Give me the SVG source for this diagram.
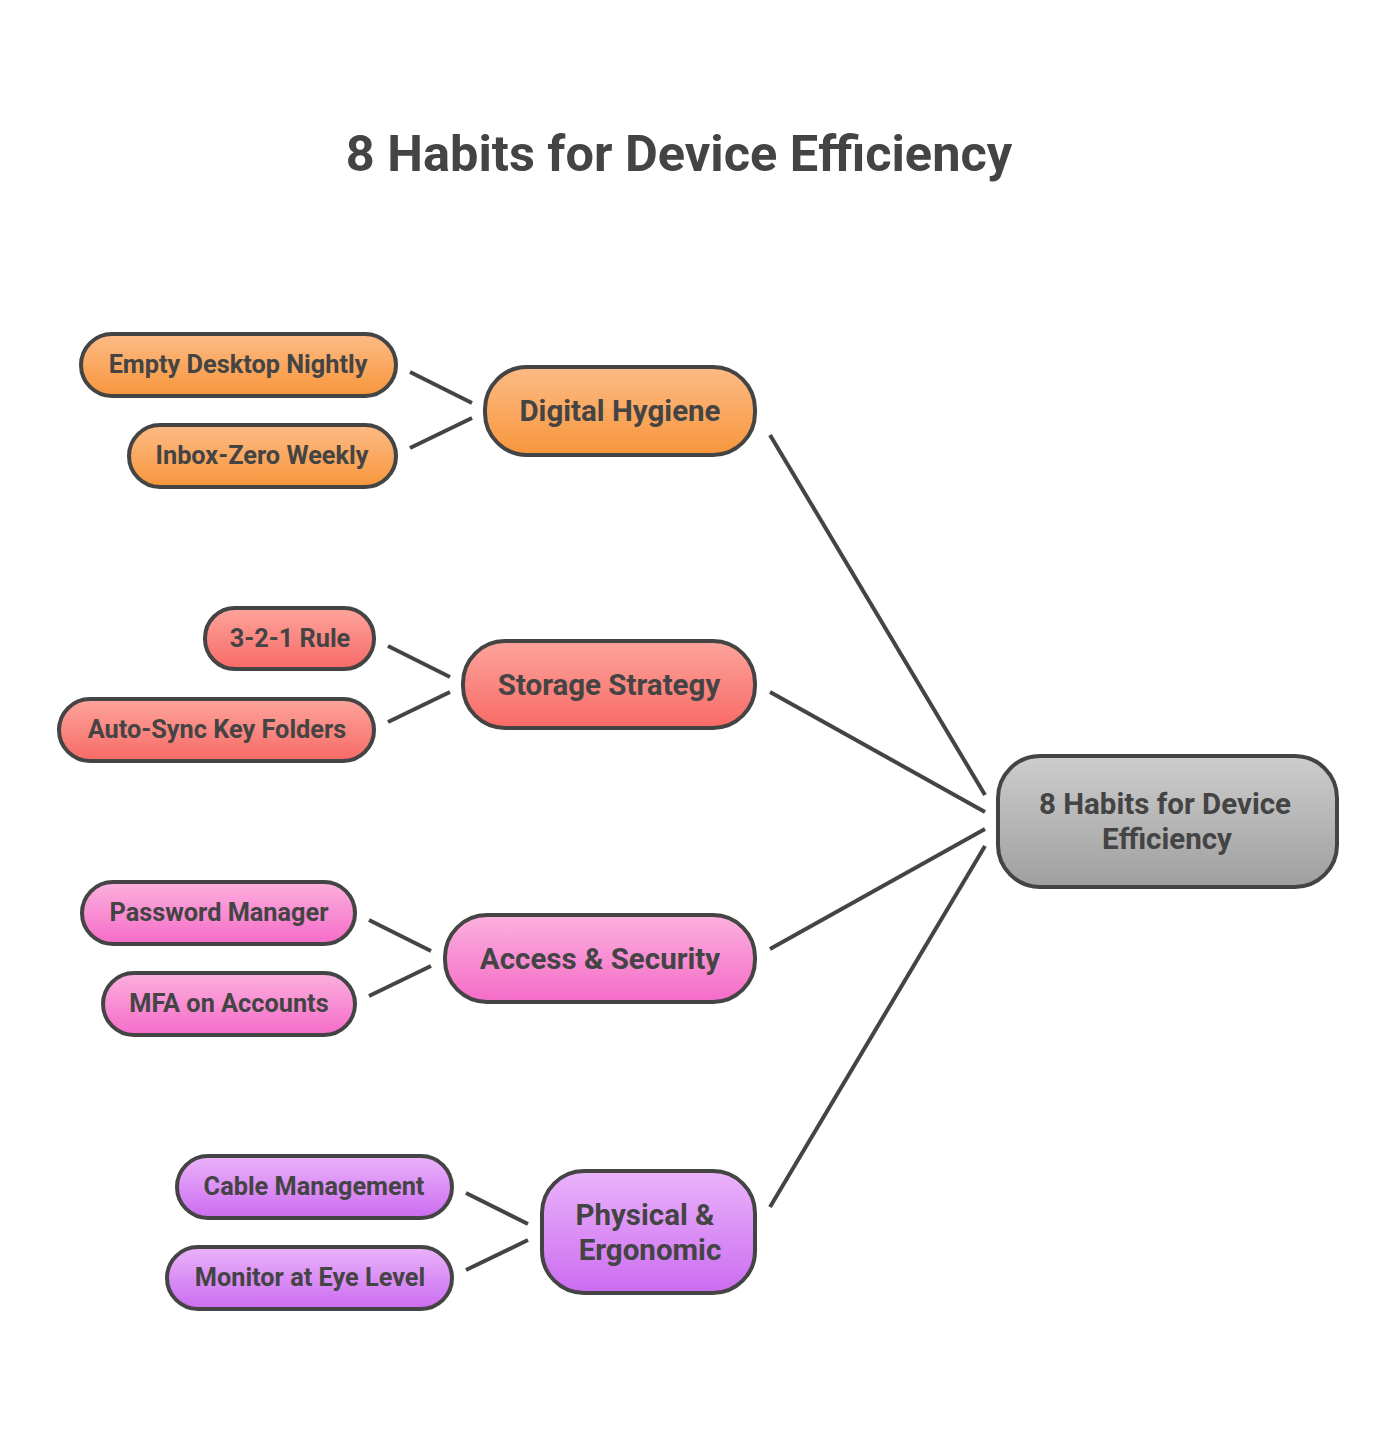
<svg xmlns="http://www.w3.org/2000/svg" width="1400" height="1430" viewBox="0 0 1400 1430">
<defs>
<linearGradient id="go" x1="0" y1="0" x2="0" y2="1"><stop offset="0" stop-color="#fdbb86"/><stop offset="1" stop-color="#f7963c"/></linearGradient>
<linearGradient id="gr" x1="0" y1="0" x2="0" y2="1"><stop offset="0" stop-color="#fda49c"/><stop offset="1" stop-color="#f86a66"/></linearGradient>
<linearGradient id="gp" x1="0" y1="0" x2="0" y2="1"><stop offset="0" stop-color="#fcb0de"/><stop offset="1" stop-color="#f56cc8"/></linearGradient>
<linearGradient id="gv" x1="0" y1="0" x2="0" y2="1"><stop offset="0" stop-color="#ebb3fb"/><stop offset="1" stop-color="#cb6cf0"/></linearGradient>
<linearGradient id="gg" x1="0" y1="0" x2="0" y2="1"><stop offset="0" stop-color="#cdcdcd"/><stop offset="1" stop-color="#9f9f9f"/></linearGradient>
</defs>
<style>
rect{stroke:#444;stroke-width:4}
text{font-family:Roboto,"Liberation Sans",sans-serif;font-weight:bold;fill:#444;text-anchor:middle}
.s{font-size:25.3px}.m{font-size:29.5px}
line{stroke:#444;stroke-width:4}
</style>
<rect width="1400" height="1430" fill="#fff" style="stroke:none"/>
<text x="679" y="171" style="font-size:50.5px">8 Habits for Device Efficiency</text>
<g id="connectors">
<line x1="770" y1="435" x2="985" y2="795"/><line x1="770" y1="692" x2="985" y2="812"/>
<line x1="770" y1="949" x2="985" y2="829"/><line x1="770" y1="1207" x2="985" y2="846"/>
<line x1="410" y1="372" x2="472" y2="403"/><line x1="410" y1="448" x2="472" y2="418"/>
<line x1="388" y1="646" x2="450" y2="677"/><line x1="388" y1="722" x2="450" y2="692"/>
<line x1="369" y1="920" x2="431" y2="951"/><line x1="369" y1="996" x2="431" y2="966"/>
<line x1="466" y1="1193" x2="528" y2="1224"/><line x1="466" y1="1270" x2="528" y2="1240"/>
</g>
<g id="center"><rect x="998" y="756" width="339" height="131" rx="42" fill="url(#gg)"/><text class="m" x="1165" y="814">8 Habits for Device</text><text class="m" x="1167" y="849">Efficiency</text></g>
<g id="dh"><rect x="485" y="367" width="270" height="88" rx="42" fill="url(#go)"/><text class="m" x="620" y="421">Digital Hygiene</text></g>
<g id="e1"><rect x="81" y="334" width="315" height="62" rx="31" fill="url(#go)"/><text class="s" x="238" y="373">Empty Desktop Nightly</text></g>
<g id="e2"><rect x="129" y="425" width="267" height="62" rx="31" fill="url(#go)"/><text class="s" x="262" y="464">Inbox-Zero Weekly</text></g>
<g id="ss"><rect x="463" y="641" width="292" height="87" rx="42" fill="url(#gr)"/><text class="m" x="609" y="695">Storage Strategy</text></g>
<g id="r1"><rect x="205" y="608" width="169" height="61" rx="30" fill="url(#gr)"/><text class="s" x="290" y="647">3-2-1 Rule</text></g>
<g id="r2"><rect x="59" y="699" width="315" height="62" rx="31" fill="url(#gr)"/><text class="s" x="217" y="738">Auto-Sync Key Folders</text></g>
<g id="as"><rect x="445" y="915" width="310" height="87" rx="42" fill="url(#gp)"/><text class="m" x="600" y="969">Access &amp; Security</text></g>
<g id="p1"><rect x="82" y="882" width="273" height="62" rx="31" fill="url(#gp)"/><text class="s" x="219" y="921">Password Manager</text></g>
<g id="p2"><rect x="103" y="973" width="252" height="62" rx="31" fill="url(#gp)"/><text class="s" x="229" y="1012">MFA on Accounts</text></g>
<g id="pe"><rect x="542" y="1171" width="213" height="122" rx="42" fill="url(#gv)"/><text class="m" x="645" y="1225">Physical &amp;</text><text class="m" x="650" y="1260">Ergonomic</text></g>
<g id="v1"><rect x="177" y="1156" width="275" height="62" rx="31" fill="url(#gv)"/><text class="s" x="314" y="1195">Cable Management</text></g>
<g id="v2"><rect x="167" y="1247" width="285" height="62" rx="31" fill="url(#gv)"/><text class="s" x="310" y="1286">Monitor at Eye Level</text></g>
</svg>
